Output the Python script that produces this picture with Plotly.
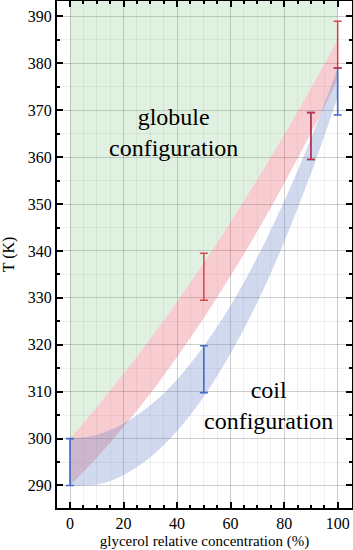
import plotly.graph_objects as go

# ---- data ----
conc = [0, 10, 20, 30, 40, 50, 60, 70, 80, 90, 100]
globule_upper = [300, 306.7, 313.8, 321.3, 329.2, 337.5, 346.2, 355.3, 364.8, 374.7, 385.0]
globule_lower = [290, 295.9, 302.5, 309.6, 317.4, 325.7, 334.7, 344.2, 354.4, 365.1, 376.5]
coil_upper = [300, 300.8, 303.2, 307.1, 312.6, 319.8, 328.4, 338.7, 350.6, 364.0, 379.0]
coil_lower = [290, 290.2, 292.2, 296.0, 301.6, 309.0, 318.2, 329.1, 341.9, 356.5, 372.8]

red_x = [50, 90, 100]
red_T = [334.5, 364.5, 384.0]
red_err = [5, 5, 5]
blue_x = [0, 50, 90, 100]
blue_T = [295.0, 314.8, 364.5, 374.0]
blue_err = [5, 5, 5, 5]

x_range = [-4.86, 105.35]
y_range = [285.2, 393.3]
x_ticks = [0, 20, 40, 60, 80, 100]
y_ticks = [290, 300, 310, 320, 330, 340, 350, 360, 370, 380, 390]

GREEN = "rgba(120,190,120,0.22)"
PINK = "rgba(231,76,92,0.28)"
BLUE = "rgba(100,130,200,0.30)"
RED_LINE = "rgba(214,40,52,0.85)"
BLUE_LINE = "rgb(65,105,200)"
FONT = "Times New Roman, Liberation Serif, serif"

fig = go.Figure()

# green globule region: from pink upper boundary up to top of plot
fig.add_trace(go.Scatter(x=conc, y=globule_upper, mode="lines",
                         line=dict(width=0, shape="spline"), hoverinfo="skip"))
fig.add_trace(go.Scatter(x=conc, y=[y_range[1]] * len(conc), mode="lines",
                         line=dict(width=0), fill="tonexty", fillcolor=GREEN,
                         hoverinfo="skip"))
# pink band
fig.add_trace(go.Scatter(x=conc, y=globule_lower, mode="lines",
                         line=dict(width=0, shape="spline"), hoverinfo="skip"))
fig.add_trace(go.Scatter(x=conc, y=globule_upper, mode="lines",
                         line=dict(width=0, shape="spline"), fill="tonexty",
                         fillcolor=PINK, hoverinfo="skip"))
# blue band
fig.add_trace(go.Scatter(x=conc, y=coil_lower, mode="lines",
                         line=dict(width=0, shape="spline"), hoverinfo="skip"))
fig.add_trace(go.Scatter(x=conc, y=coil_upper, mode="lines",
                         line=dict(width=0, shape="spline"), fill="tonexty",
                         fillcolor=BLUE, hoverinfo="skip"))

# error bars
fig.add_trace(go.Scatter(x=blue_x, y=blue_T, mode="markers",
                         marker=dict(size=1, color="rgba(0,0,0,0)"),
                         error_y=dict(type="data", array=blue_err, visible=True,
                                      color=BLUE_LINE, thickness=1.6, width=4)))
fig.add_trace(go.Scatter(x=red_x, y=red_T, mode="markers",
                         marker=dict(size=1, color="rgba(0,0,0,0)"),
                         error_y=dict(type="data", array=red_err, visible=True,
                                      color=RED_LINE, thickness=1.5, width=4)))

fig.add_annotation(x=38.7, y=365.2, text="globule<br>configuration", showarrow=False,
                   xanchor="center", yanchor="middle", align="center",
                   font=dict(family=FONT, size=24, color="black"))
fig.add_annotation(x=74, y=307, text="coil<br>configuration", showarrow=False,
                   xanchor="center", yanchor="middle", align="center",
                   font=dict(family=FONT, size=24, color="black"))

axis_common = dict(showline=True, linecolor="black", linewidth=2, mirror="ticks",
                   ticks="inside", ticklen=6, tickwidth=1.5, tickcolor="black",
                   showgrid=True, gridcolor="rgba(0,0,0,0.14)", gridwidth=1,
                   zeroline=False, automargin=False,
                   tickfont=dict(family=FONT, size=16, color="black"))

fig.update_xaxes(range=x_range, tickvals=x_ticks, **axis_common,
                 minor=dict(dtick=5, ticks="inside", ticklen=3, tickcolor="black",
                            showgrid=True, gridcolor="rgba(0,0,0,0.06)"),
                 title=dict(text="glycerol relative concentration (%)",
                            font=dict(family=FONT, size=15, color="black"), standoff=6))
fig.update_yaxes(range=y_range, tickvals=y_ticks, **axis_common,
                 minor=dict(dtick=5, ticks="inside", ticklen=3, tickcolor="black",
                            showgrid=True, gridcolor="rgba(0,0,0,0.06)"),
                 title=dict(text="T (K)", font=dict(family=FONT, size=16, color="black"),
                            standoff=10))

fig.update_layout(width=353, height=550, margin=dict(l=57, r=1, t=1, b=42),
                  plot_bgcolor="white", paper_bgcolor="white", showlegend=False,
                  font=dict(family=FONT, size=16, color="black"))

fig.write_html("out.html", config={"displayModeBar": False},
               post_script="document.body.style.margin='0';")
